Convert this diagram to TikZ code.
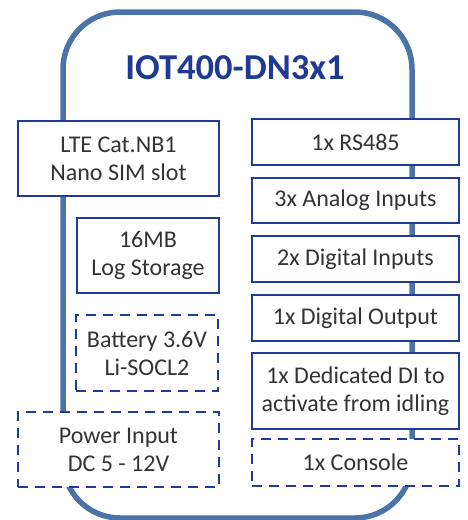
\documentclass[tikz,border=0pt]{standalone}
\usepackage{fontspec}
\setmainfont{Carlito}
\definecolor{boxblue}{HTML}{1F3C96}
\definecolor{frameblue}{HTML}{4A73A8}
\definecolor{titleblue}{HTML}{1F3A93}
\definecolor{textgray}{HTML}{333333}
\begin{document}
\begin{tikzpicture}[x=1pt,y=-1pt,
  box/.style={draw=boxblue, line width=2.6pt, fill=white, text=textgray,
    font=\fontsize{24}{28}\selectfont, align=center, inner sep=0pt},
  dbox/.style={box, dash pattern=on 10pt off 7pt},
  frame/.style={draw=frameblue, line width=5.5pt, rounded corners=57pt}]
\useasboundingbox (0,0) rectangle (467,520);
\draw[frame] (63,12) rectangle (412,518);
\node[font=\fontsize{36.5}{40}\selectfont\bfseries, text=titleblue] (title) at (235,68) {IOT400-DN3x1};
% left column
\node[box, minimum width=201pt, minimum height=75pt] (lte) at (118.5,158.5) {LTE Cat.NB1\\Nano SIM slot};
\node[box, minimum width=142pt, minimum height=75pt] (mem) at (148,255.5) {16MB\\Log Storage};
\node[dbox, minimum width=142pt, minimum height=76pt] (bat) at (147,353) {Battery 3.6V\\Li-SOCL2};
\node[dbox, minimum width=201pt, minimum height=75pt] (pwr) at (118.5,449.5) {Power Input\\DC 5 - 12V};
% right column
\node[box, minimum width=207pt, minimum height=46pt] (rs) at (355.5,142) {1x RS485};
\node[box, minimum width=207pt, minimum height=45pt] (ai) at (355.5,200.5) {3x Analog Inputs};
\node[box, minimum width=207pt, minimum height=46pt] (di) at (355.5,259) {2x Digital Inputs};
\node[box, minimum width=207pt, minimum height=46pt] (do) at (355.5,318) {1x Digital Output};
\node[box, minimum width=207pt, minimum height=76pt] (ded) at (355.5,391) {1x Dedicated DI to\\activate from idling};
\node[dbox, minimum width=207pt, minimum height=47pt] (con) at (355.5,462.5) {1x Console};
\end{tikzpicture}
\end{document}
